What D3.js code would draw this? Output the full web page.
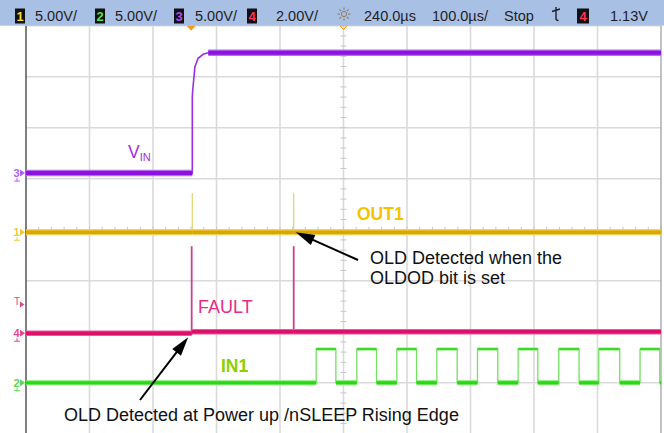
<!DOCTYPE html>
<html>
<head>
<meta charset="utf-8">
<script src="https://cdn.jsdelivr.net/npm/d3@7"></script>
<style>
  html, body { margin: 0; padding: 0; background: #fff; }
  svg { display: block; }
  text { font-family: "Liberation Sans", Arial, sans-serif; }
</style>
</head>
<body>
<svg id="scope" width="664" height="433"></svg>
<script>
// ---- Status bar settings -------------------------------------------------
const channelIds    = ["1", "2", "3", "4"];
const channelScales = ["5.00V/", "5.00V/", "5.00V/", "2.00V/"];
const timeDelayText = "240.0µs";
const timeScaleText = "100.0µs/";
const runStateText  = "Stop";
const triggerSource = "4";
const triggerLevel  = 1.13;               // volts on the trigger source
const triggerLevelText = "1.13V";

// ---- Timebase and vertical setup -----------------------------------------
const timeDomain  = [-260, 740];          // µs across 10 divisions (100 µs/div, 240 µs delay)
const timeGrid    = [-260, -160, -60, 40, 140, 240, 340, 440, 540, 640, 740];
const divGrid     = [-4, -3, -2, -1, 0, 1, 2, 3, 4];
const voltsPerDiv = { 1: 5, 2: 5, 3: 5, 4: 2 };
const groundDiv   = { 1: -0.05, 2: -3.0, 3: 1.11, 4: -2.03 };   // ground marker, divisions from centre

// ---- Captured waveforms (time in µs, amplitude in V) ---------------------
// Channel 3: VIN
const vinTime  = [-260, 1.9, 1.9, 2.5, 6, 11, 19, 27, 740];
const vinVolts = [0, 0, 7.45, 8.1, 10.4, 11.25, 11.65, 11.8, 11.8];

// Channel 1: OUT1 (short glitches at power-up and when OLDOD is set)
const out1Time  = [-260, 1.9, 1.9, 1.9, 161.6, 161.6, 161.6, 740];
const out1Volts = [0, 0, 3.85, 0, 0, 3.85, 0, 0];

// Channel 4: FAULT
const faultTime  = [-260, 0.9, 0.9, 0.9, 161.6, 161.6, 161.6, 740];
const faultVolts = [0, 0, 3.41, 0.06, 0.06, 3.41, 0.06, 0.06];

// Channel 2: IN1 PWM edges
const in1Rise = [197, 261, 324, 387, 451, 515, 579, 642, 707];
const in1Fall = [228, 292, 355, 419, 483, 546, 611, 675, 738];
const in1High = 3.3;

// --------------------------------------------------------------------------
const svg = d3.select("#scope");
const W = 664, H = 433;
const plot = { left: 26, right: 661, top: 25.7, bottom: 433.7 };

const x = d3.scaleLinear().domain(timeDomain).range([plot.left, plot.right]);
const yDiv = d3.scaleLinear().domain([-4, 4]).range([plot.bottom, plot.top]);
const yCh = (ch, v) => yDiv(groundDiv[ch] + v / voltsPerDiv[ch]);

svg.append("rect").attr("width", W).attr("height", H).attr("fill", "#fff");

// ---- Graticule -----------------------------------------------------------
const grid = svg.append("g");
grid.selectAll("line.v").data(timeGrid.slice(1, -1)).join("line")
  .attr("x1", d => x(d)).attr("x2", d => x(d))
  .attr("y1", plot.top).attr("y2", plot.bottom)
  .attr("stroke", "#dadada").attr("stroke-width", 1.6);
grid.selectAll("line.h").data(divGrid.slice(1)).join("line")
  .attr("x1", plot.left).attr("x2", plot.right)
  .attr("y1", d => yDiv(d)).attr("y2", d => yDiv(d))
  .attr("stroke", "#dadada").attr("stroke-width", 1.6);

// minor ticks on the centre cross
const tCentre = 240;
const minorT = d3.range(timeDomain[0], timeDomain[1] + 0.1, 20);
grid.selectAll("line.mt").data(minorT).join("line")
  .attr("x1", d => x(d)).attr("x2", d => x(d))
  .attr("y1", yDiv(0) - 3).attr("y2", yDiv(0) + 3)
  .attr("stroke", "#c8c8c8").attr("stroke-width", 1);
const minorD = d3.range(-4, 4.01, 0.2);
grid.selectAll("line.md").data(minorD).join("line")
  .attr("x1", x(tCentre) - 3).attr("x2", x(tCentre) + 3)
  .attr("y1", d => yDiv(d)).attr("y2", d => yDiv(d))
  .attr("stroke", "#c8c8c8").attr("stroke-width", 1);

// frame
svg.append("line").attr("x1", plot.left).attr("x2", plot.left)
  .attr("y1", plot.top).attr("y2", H).attr("stroke", "#555").attr("stroke-width", 1.5);
svg.append("line").attr("x1", plot.right).attr("x2", plot.right)
  .attr("y1", plot.top).attr("y2", H).attr("stroke", "#9a9a9a").attr("stroke-width", 1.2);

// ---- Traces --------------------------------------------------------------
function drawTrace(ch, times, volts, st) {
  const pts = times.map((t, i) => [x(t), yCh(ch, volts[i])]);
  const g = svg.append("g");
  g.append("path").attr("d", d3.line()(pts))
    .attr("fill", "none").attr("stroke", st.edge).attr("stroke-width", st.edgeW);
  const flats = [];
  for (let i = 0; i < pts.length - 1; i++) {
    if (volts[i] === volts[i + 1] && times[i + 1] > times[i]) flats.push([pts[i], pts[i + 1], volts[i]]);
  }
  st.bands.forEach(b => {
    g.selectAll(null).data(flats).join("line")
      .attr("x1", d => d[0][0]).attr("x2", d => d[1][0])
      .attr("y1", d => d[0][1]).attr("y2", d => d[1][1])
      .attr("stroke", b.color)
      .attr("stroke-width", d => (b.highW !== undefined && d[2] > 0.5) ? b.highW : b.w);
  });
}

drawTrace(3, vinTime, vinVolts, {
  edge: "#9a2ee8", edgeW: 1.6,
  bands: [{ color: "#b56cf0", w: 6.5 }, { color: "#8d12df", w: 4 }]
});

drawTrace(1, out1Time, out1Volts, {
  edge: "#e9cf6a", edgeW: 1.2,
  bands: [{ color: "#f1cf55", w: 6 }, { color: "#dca600", w: 3.5 }]
});

drawTrace(4, faultTime, faultVolts, {
  edge: "#c8438f", edgeW: 1.8,
  bands: [{ color: "#ea5a98", w: 5.5 }, { color: "#dc0f6a", w: 3.5 }]
});

const in1Time = [timeDomain[0]], in1Volts = [0];
in1Rise.forEach((r, i) => {
  in1Time.push(r, r, in1Fall[i], in1Fall[i]);
  in1Volts.push(0, in1High, in1High, 0);
});
in1Time.push(timeDomain[1]); in1Volts.push(0);
drawTrace(2, in1Time, in1Volts, {
  edge: "#74e061", edgeW: 1.3,
  bands: [{ color: "#7fea6c", w: 5, highW: 3 }, { color: "#27d815", w: 3, highW: 1.6 }]
});

// ---- Channel ground markers and trigger level ----------------------------
const markerColor = { 1: "#e9c93a", 2: "#5fd64e", 3: "#b25ef0", 4: "#e4478c" };
const markers = svg.append("g");
[3, 1, 4, 2].forEach(ch => {
  const yy = yCh(ch, 0);
  markers.append("text").attr("x", 16.5).attr("y", yy + 4).attr("text-anchor", "middle")
    .attr("font-size", 11).attr("font-weight", "bold").attr("fill", markerColor[ch]).text(String(ch));
  markers.append("path").attr("d", `M20,${yy - 3.5}L25,${yy}L20,${yy + 3.5}Z`).attr("fill", markerColor[ch]);
  markers.append("path").attr("d", `M17,${yy + 5}V${yy + 8}M14,${yy + 8}H20`)
    .attr("stroke", markerColor[ch]).attr("stroke-width", 1).attr("fill", "none");
});
{
  const yt = yCh(+triggerSource, triggerLevel);
  markers.append("text").attr("x", 17).attr("y", yt + 1).attr("text-anchor", "middle")
    .attr("font-size", 10).attr("fill", markerColor[4]).text("T");
  markers.append("path").attr("d", `M20,${yt - 3}L24.5,${yt}L20,${yt + 3}Z`).attr("fill", markerColor[4]);
}

// trigger point and delay reference on the top edge
svg.append("path").attr("d", `M${x(0) - 4.5},${plot.top}L${x(0) + 4.5},${plot.top}L${x(0)},${plot.top + 5}Z`)
  .attr("fill", "#f29a1f");
svg.append("path").attr("d", `M${x(tCentre) - 3.5},${plot.top}L${x(tCentre) + 3.5},${plot.top}L${x(tCentre)},${plot.top + 4}Z`)
  .attr("fill", "none").attr("stroke", "#f29a1f").attr("stroke-width", 1);

// ---- Status bar ----------------------------------------------------------
const bar = svg.append("g");
bar.append("rect").attr("x", 0).attr("y", 0).attr("width", W).attr("height", plot.top)
  .attr("fill", "#a9c0e5");
const chipColor = { "1": "#ecdf3a", "2": "#56e04a", "3": "#b04cf2", "4": "#ff2f5e" };
const chipX = [15, 95, 174, 247];
const scaleX = [35, 115, 195, 276];
channelIds.forEach((id, i) => {
  bar.append("rect").attr("x", chipX[i]).attr("y", 8.5).attr("width", 10).attr("height", 15).attr("fill", "#111");
  bar.append("text").attr("x", chipX[i] + 5).attr("y", 20.5).attr("text-anchor", "middle")
    .attr("font-size", 13).attr("font-weight", "bold").attr("fill", chipColor[id]).text(id);
  bar.append("text").attr("x", scaleX[i]).attr("y", 20.5).attr("font-size", 14.5).attr("fill", "#1e1e28")
    .text(channelScales[i]);
});
// intensity (sun) icon
{
  const cx = 344, cy = 14;
  bar.append("circle").attr("cx", cx).attr("cy", cy).attr("r", 2.6)
    .attr("fill", "none").attr("stroke", "#8c7a5e").attr("stroke-width", 1);
  d3.range(8).forEach(k => {
    const a = k * Math.PI / 4;
    bar.append("line")
      .attr("x1", cx + Math.cos(a) * 4.2).attr("y1", cy + Math.sin(a) * 4.2)
      .attr("x2", cx + Math.cos(a) * 6.5).attr("y2", cy + Math.sin(a) * 6.5)
      .attr("stroke", "#8c7a5e").attr("stroke-width", 1.1);
  });
}
bar.append("text").attr("x", 364).attr("y", 20.5).attr("font-size", 14.5).attr("fill", "#1e1e28").text(timeDelayText);
bar.append("text").attr("x", 432).attr("y", 20.5).attr("font-size", 14.5).attr("fill", "#1e1e28").text(timeScaleText);
bar.append("text").attr("x", 504).attr("y", 20.5).attr("font-size", 14.5).attr("fill", "#1e1e28").text(runStateText);
// rising-edge trigger icon
bar.append("path").attr("d", "M552,11.5L560,9M556,7V18.5Q556,20.5 558.5,20.5")
  .attr("fill", "none").attr("stroke", "#1e1e28").attr("stroke-width", 1.4);
bar.append("rect").attr("x", 577).attr("y", 8.5).attr("width", 12).attr("height", 15).attr("fill", "#111");
bar.append("text").attr("x", 583).attr("y", 20.5).attr("text-anchor", "middle")
  .attr("font-size", 13).attr("font-weight", "bold").attr("fill", chipColor[triggerSource]).text(triggerSource);
bar.append("text").attr("x", 610).attr("y", 20.5).attr("font-size", 14.5).attr("fill", "#1e1e28").text(triggerLevelText);

// ---- Signal labels -------------------------------------------------------
const lab = svg.append("g");
const vin = lab.append("text").attr("x", 128).attr("y", 158.3).attr("font-size", 17.5).attr("fill", "#a229f0");
vin.append("tspan").text("V");
vin.append("tspan").attr("font-size", 11).attr("dy", 2.8).text("IN");
lab.append("text").attr("x", 357).attr("y", 220).attr("font-size", 17.5).attr("font-weight", "bold")
  .attr("fill", "#f4c300").text("OUT1");
lab.append("text").attr("x", 198).attr("y", 312.7).attr("font-size", 18)
  .attr("fill", "#ea2a83").text("FAULT");
lab.append("text").attr("x", 221).attr("y", 372).attr("font-size", 17.5).attr("font-weight", "bold")
  .attr("fill", "#8ccf00").text("IN1");

// ---- Callouts ------------------------------------------------------------
function arrow(x1, y1, x2, y2) {
  const a = Math.atan2(y2 - y1, x2 - x1), L = 19, Wd = 5.5;
  const bx = x2 - Math.cos(a) * L, by = y2 - Math.sin(a) * L;
  const g = svg.append("g");
  g.append("line").attr("x1", x1).attr("y1", y1).attr("x2", bx + Math.cos(a) * 2).attr("y2", by + Math.sin(a) * 2)
    .attr("stroke", "#000").attr("stroke-width", 2);
  g.append("path").attr("d",
    `M${x2},${y2}L${bx - Math.sin(a) * Wd},${by + Math.cos(a) * Wd}L${bx + Math.sin(a) * Wd},${by - Math.cos(a) * Wd}Z`)
    .attr("fill", "#000");
}
arrow(358, 260, x(out1Time[4]) + 2, yCh(1, 0));
arrow(140, 400, x(faultTime[1]) - 3.5, yCh(4, 0) + 4);

lab.append("text").attr("x", 370).attr("y", 264).attr("font-size", 18).attr("fill", "#111")
  .text("OLD Detected when the");
lab.append("text").attr("x", 370).attr("y", 283.5).attr("font-size", 18).attr("fill", "#111")
  .text("OLDOD bit is set");
lab.append("text").attr("x", 64).attr("y", 420.7).attr("font-size", 18).attr("fill", "#111")
  .text("OLD Detected at Power up /nSLEEP Rising Edge");
</script>
</body>
</html>
